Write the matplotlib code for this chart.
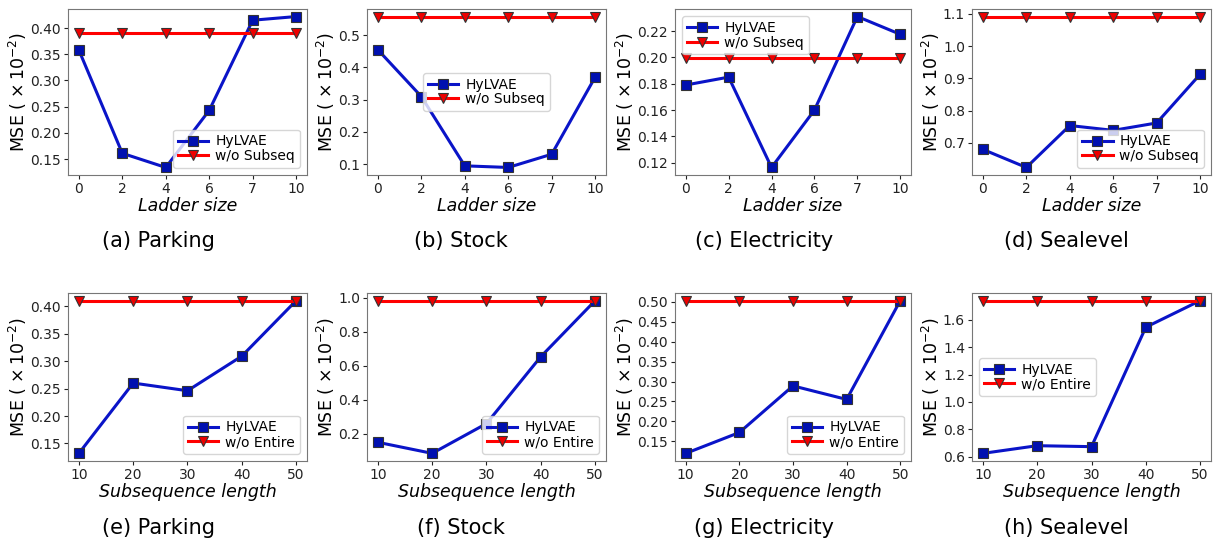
import matplotlib
matplotlib.use("Agg")
import matplotlib.pyplot as plt
from matplotlib.ticker import MultipleLocator, FormatStrFormatter

# ladder size panels (top row)
ladder_ticks = ["0", "2", "4", "6", "7", "10"]
ladder_hylvae = {
    "Parking": [0.358, 0.161, 0.134, 0.243, 0.415, 0.422],
    "Stock": [0.455, 0.310, 0.095, 0.090, 0.131, 0.370],
    "Electricity": [0.179, 0.185, 0.1164, 0.160, 0.231, 0.2175],
    "Sealevel": [0.680, 0.624, 0.754, 0.739, 0.762, 0.913],
}
ladder_wo = {"Parking": 0.390, "Stock": 0.558, "Electricity": 0.1995, "Sealevel": 1.092}

# subsequence length panels (bottom row)
subseq_ticks = ["10", "20", "30", "40", "50"]
subseq_hylvae = {
    "Parking": [0.132, 0.260, 0.246, 0.309, 0.410],
    "Stock": [0.150, 0.085, 0.260, 0.653, 0.982],
    "Electricity": [0.1196, 0.172, 0.289, 0.255, 0.503],
    "Sealevel": [0.625, 0.681, 0.674, 1.546, 1.740],
}
subseq_wo = {"Parking": 0.410, "Stock": 0.982, "Electricity": 0.503, "Sealevel": 1.740}

datasets = ["Parking", "Stock", "Electricity", "Sealevel"]
top_letters = ["a", "b", "c", "d"]
bot_letters = ["e", "f", "g", "h"]
top_legend = ["lower right", "center", "upper left", "lower right"]
bot_legend = ["lower right", "lower right", "lower right", "center left"]
# y tick step and format per panel
top_ystep = [(0.05, "%.2f"), (0.1, "%.1f"), (0.02, "%.2f"), (0.1, "%.1f")]
bot_ystep = [(0.05, "%.2f"), (0.2, "%.1f"), (0.05, "%.2f"), (0.2, "%.1f")]

W, H = 1213, 547
fig = plt.figure(figsize=(W / 100, H / 100), dpi=100)

# axes boxes in pixels: left, right
cols = [(68, 307), (367, 606), (675, 911), (972, 1211)]
caption_x = [158, 461, 764, 1066]
rows = [(9, 175), (293, 461)]   # top, bottom in pixels
caption_y = [241, 528]


def panel(col, row, ticks, hy, wo, xlabel, wolabel, loc, caption, ystep):
    l, r = cols[col]
    t, b = rows[row]
    ax = fig.add_axes([l / W, 1 - b / H, (r - l) / W, (b - t) / H])
    x = list(range(len(ticks)))
    ax.plot(x, hy, color="#0a14c8", lw=2.2, marker="s", ms=7,
            mfc="#0010b0", mec="#333333", mew=0.8, label="HyLVAE")
    ax.plot(x, [wo] * len(x), color="#ff0000", lw=2.2, marker="v", ms=7,
            mfc="#ee0000", mec="#333333", mew=0.8, label=wolabel)
    ax.set_xticks(x)
    ax.set_xticklabels(ticks)
    ax.yaxis.set_major_locator(MultipleLocator(ystep[0]))
    ax.yaxis.set_major_formatter(FormatStrFormatter(ystep[1]))
    ax.tick_params(labelsize=10, colors="#222222", length=3, pad=2)
    for s in ax.spines.values():
        s.set_color("#777777")
    ax.set_xlabel(xlabel, fontsize=12.5, style="italic", labelpad=1)
    ax.set_ylabel(r"MSE ( $\times\,10^{-2}$)", fontsize=12.5, labelpad=1)
    ax.legend(loc=loc, fontsize=10, handlelength=2.2, borderpad=0.35,
              labelspacing=0.05, handletextpad=0.5)
    fig.text(caption_x[col] / W, 1 - caption_y[row] / H, caption,
             ha="center", va="center", fontsize=15)
    return ax


for i, d in enumerate(datasets):
    panel(i, 0, ladder_ticks, ladder_hylvae[d], ladder_wo[d], "Ladder size",
          "w/o Subseq", top_legend[i], f"({top_letters[i]}) {d}", top_ystep[i])
    panel(i, 1, subseq_ticks, subseq_hylvae[d], subseq_wo[d],
          "Subsequence length", "w/o Entire", bot_legend[i],
          f"({bot_letters[i]}) {d}", bot_ystep[i])

fig.savefig("out.png", dpi=100)
